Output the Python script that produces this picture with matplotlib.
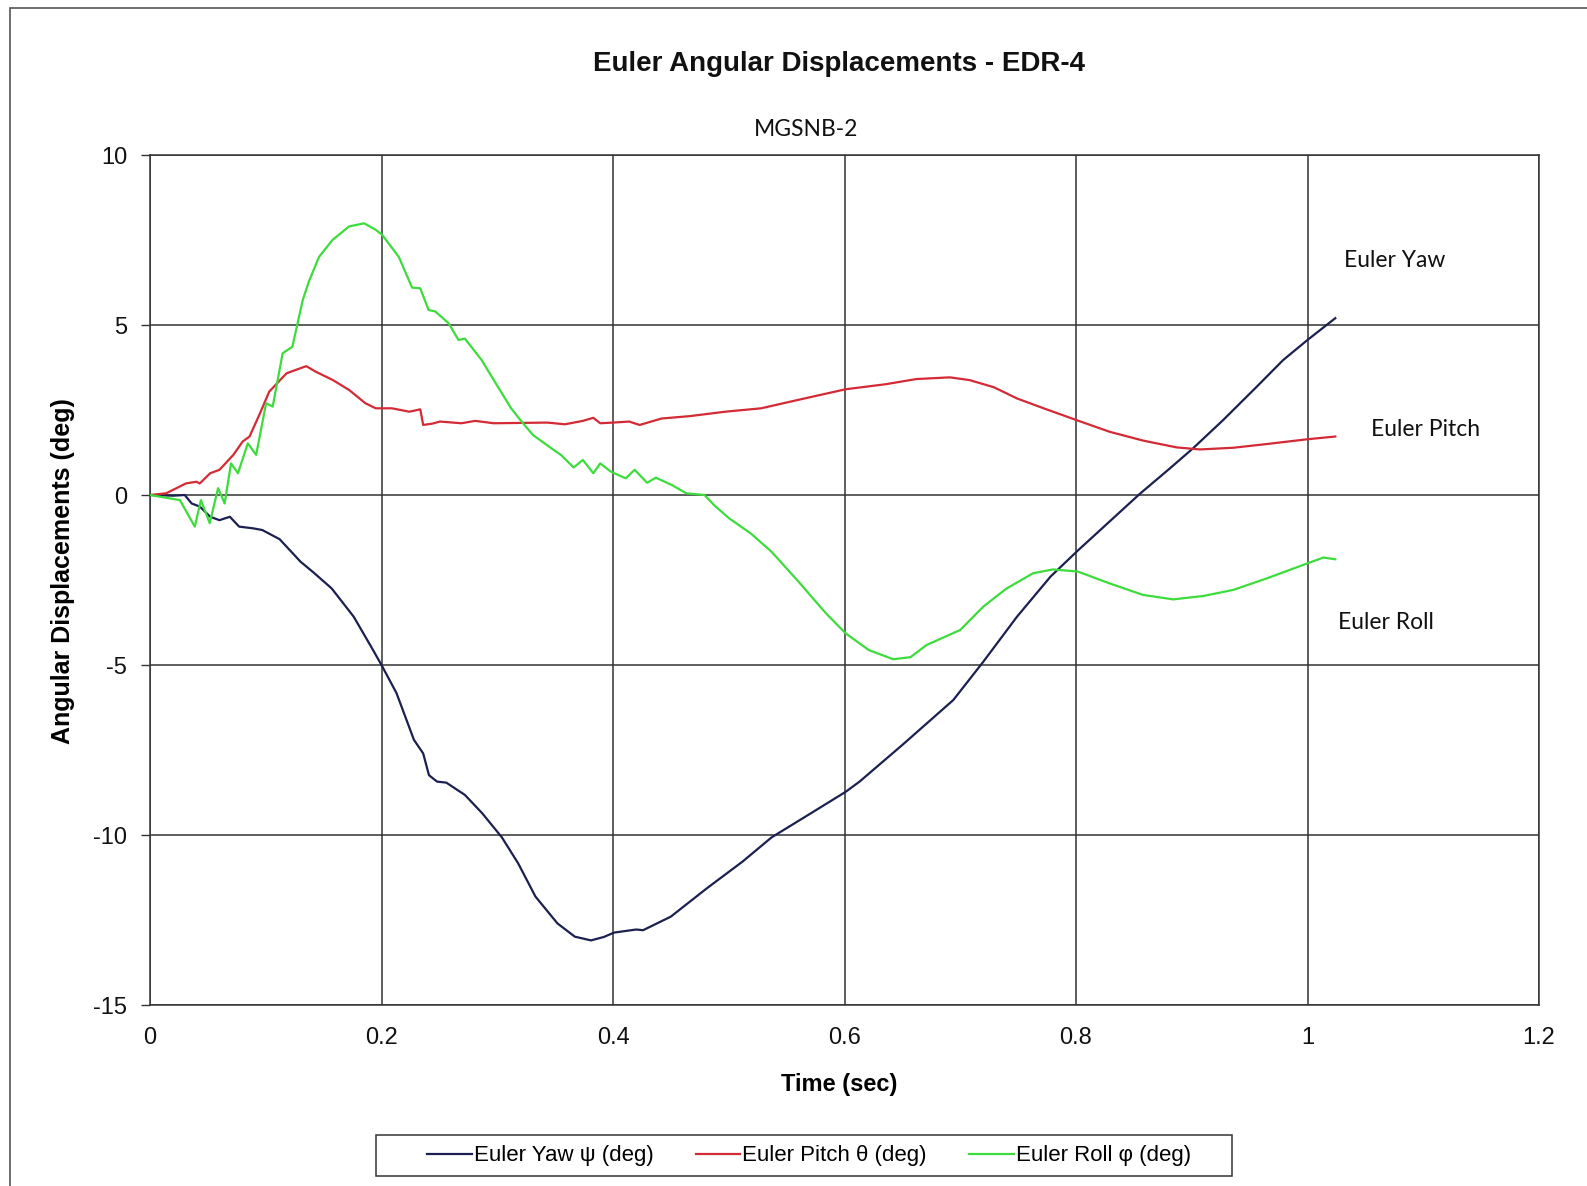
import matplotlib
matplotlib.use("Agg")
import matplotlib.pyplot as plt
from matplotlib.patches import Rectangle

# ---------------- data ----------------
yaw_t = [0, 0.02, 0.03, 0.036, 0.043, 0.052, 0.06, 0.069, 0.077, 0.089, 0.097, 0.112, 0.13, 0.142,
         0.157, 0.176, 0.191, 0.2, 0.213, 0.228, 0.236, 0.241, 0.248, 0.256, 0.272, 0.287, 0.304,
         0.318, 0.333, 0.352, 0.367, 0.381, 0.392, 0.401, 0.42, 0.426, 0.45, 0.481, 0.512, 0.537,
         0.571, 0.601, 0.613, 0.65, 0.694, 0.72, 0.749, 0.778, 0.802, 0.829, 0.855, 0.881, 0.901,
         0.927, 0.956, 0.979, 1.0, 1.024]
yaw_v = [0, -0.02, 0, -0.25, -0.34, -0.64, -0.74, -0.64, -0.93, -0.98, -1.03, -1.3, -1.96, -2.3,
         -2.75, -3.58, -4.46, -5.0, -5.83, -7.2, -7.6, -8.24, -8.43, -8.46, -8.82, -9.36, -10.07,
         -10.83, -11.81, -12.6, -12.99, -13.1, -13.0, -12.87, -12.78, -12.8, -12.4, -11.57, -10.78,
         -10.07, -9.36, -8.73, -8.43, -7.35, -6.03, -4.9, -3.58, -2.4, -1.62, -0.78, 0.03, 0.78,
         1.37, 2.2, 3.18, 3.97, 4.56, 5.2]

pitch_t = [0, 0.014, 0.031, 0.04, 0.043, 0.052, 0.06, 0.072, 0.08, 0.086, 0.095, 0.103, 0.118,
           0.126, 0.135, 0.143, 0.158, 0.172, 0.186, 0.195, 0.209, 0.224, 0.2335, 0.236, 0.244,
           0.2505, 0.269, 0.281, 0.297, 0.343, 0.3585, 0.374, 0.383, 0.389, 0.4, 0.414, 0.423,
           0.442, 0.4665, 0.497, 0.528, 0.559, 0.601, 0.636, 0.662, 0.691, 0.708, 0.729, 0.749,
           0.772, 0.8015, 0.829, 0.858, 0.887, 0.907, 0.936, 0.965, 1.0, 1.024]
pitch_v = [0, 0.05, 0.34, 0.39, 0.34, 0.64, 0.74, 1.18, 1.57, 1.72, 2.4, 3.04, 3.58, 3.68, 3.79,
           3.63, 3.38, 3.09, 2.7, 2.55, 2.55, 2.45, 2.52, 2.06, 2.1, 2.16, 2.11, 2.18, 2.11, 2.13,
           2.08, 2.18, 2.27, 2.11, 2.13, 2.16, 2.06, 2.25, 2.32, 2.45, 2.55, 2.79, 3.11, 3.26,
           3.41, 3.46, 3.38, 3.17, 2.84, 2.55, 2.19, 1.86, 1.6, 1.4, 1.34, 1.39, 1.5, 1.64, 1.72]

roll_t = [0, 0.0258, 0.0387, 0.044, 0.0516, 0.0588, 0.0645, 0.070, 0.076, 0.0845, 0.0917, 0.1003,
          0.106, 0.1146, 0.123, 0.132, 0.1375, 0.146, 0.1576, 0.172, 0.185, 0.195, 0.2006, 0.215,
          0.2264, 0.2335, 0.2407, 0.2464, 0.258, 0.2665, 0.272, 0.2865, 0.297, 0.312, 0.321,
          0.331, 0.349, 0.355, 0.366, 0.374, 0.383, 0.389, 0.398, 0.411, 0.4187, 0.4295, 0.437,
          0.451, 0.4634, 0.479, 0.488, 0.5005, 0.519, 0.537, 0.559, 0.584, 0.601, 0.621, 0.642,
          0.657, 0.671, 0.70, 0.72, 0.74, 0.763, 0.78, 0.8015, 0.829, 0.858, 0.884, 0.91, 0.936,
          0.965, 1.0, 1.0137, 1.024]
roll_v = [0, -0.15, -0.93, -0.15, -0.83, 0.2, -0.25, 0.93, 0.64, 1.52, 1.18, 2.7, 2.6, 4.17, 4.36,
          5.74, 6.3, 7.0, 7.5, 7.9, 7.99, 7.8, 7.65, 7.0, 6.1, 6.08, 5.44, 5.4, 5.05, 4.56, 4.6,
          3.97, 3.38, 2.55, 2.16, 1.76, 1.32, 1.18, 0.81, 1.03, 0.64, 0.93, 0.69, 0.49, 0.74,
          0.36, 0.51, 0.29, 0.05, 0.0, -0.32, -0.69, -1.13, -1.67, -2.5, -3.48, -4.07, -4.56,
          -4.83, -4.77, -4.41, -3.97, -3.28, -2.75, -2.3, -2.19, -2.25, -2.6, -2.94, -3.07,
          -2.97, -2.79, -2.45, -2.01, -1.84, -1.89]

series_labels = ["Euler Yaw \u03c8 (deg)", "Euler Pitch \u03b8 (deg)", "Euler Roll \u03c6 (deg)"]
series_colors = ["#1c2050", "#d42a35", "#3ddc3d"]
annot_texts = ["Euler Yaw", "Euler Pitch", "Euler Roll"]
annot_pos = [(1.075, 6.9), (1.102, 1.94), (1.068, -3.74)]

x_ticks = [0, 0.2, 0.4, 0.6, 0.8, 1.0, 1.2]
x_tick_labels = ["0", "0.2", "0.4", "0.6", "0.8", "1", "1.2"]
y_ticks = [10, 5, 0, -5, -10, -15]
y_tick_labels = ["10", "5", "0", "-5", "-10", "-15"]

# ---------------- figure ----------------
W, H = 1587, 1186
fig = plt.figure(figsize=(W / 100, H / 100), dpi=100)
fig.patch.set_facecolor("white")

# outer chart-area border
fig.patches.append(Rectangle((10 / W, -0.02), 1.2, (H - 8) / H + 0.02, transform=fig.transFigure,
                             fill=False, edgecolor="#555555", linewidth=1.2))

ax = fig.add_axes([150 / W, (H - 1005) / H, 1389 / W, 850 / H])

for t, v, c, lab in zip([yaw_t, pitch_t, roll_t], [yaw_v, pitch_v, roll_v], series_colors, series_labels):
    ax.plot(t, v, color=c, lw=1.6, label=lab, zorder=3)

ax.set_xlim(0, 1.2)
ax.set_ylim(-15, 10)
ax.set_xticks(x_ticks)
ax.set_xticklabels(x_tick_labels)
ax.set_yticks(y_ticks)
ax.set_yticklabels(y_tick_labels)
ax.grid(True, color="#333333", lw=1.1, zorder=1)
for s in ax.spines.values():
    s.set_color("#333333")
    s.set_linewidth(1.1)
ax.tick_params(axis="y", direction="out", length=6.5, width=1.0, color="#333333",
               labelsize=17, labelcolor="#111111", pad=10)
ax.tick_params(axis="x", length=0, labelsize=17, labelcolor="#111111", pad=16)
for lab in ax.get_xticklabels() + ax.get_yticklabels():
    lab.set_family("Liberation Sans")

ax.set_xlabel("Time (sec)", fontsize=17, fontweight="bold", family="Liberation Sans", va="center")
ax.xaxis.set_label_coords((829 * 1587 / 1568 - 150) / 1389, (1005 - 1084) / 850)
ax.set_ylabel("Angular Displacements (deg)", fontsize=18, fontweight="bold",
              family="Liberation Sans", va="center")
ax.yaxis.set_label_coords((63 - 150) / 1389, 0.510)

for txt, (px, py) in zip(annot_texts, annot_pos):
    ax.text(px, py, txt, fontsize=16.5, family="Lato", ha="center", va="center", color="#111111",
            clip_on=False)

fig.text(829 * 1587 / 1568 / W, 1 - 64 / H, "Euler Angular Displacements - EDR-4", fontsize=20,
         fontweight="bold", family="Liberation Sans", ha="center", va="center", color="#111111")
fig.text(806 / W, 1 - 129 / H, "MGSNB-2", fontsize=16.5, family="Lato", ha="center", va="center",
         color="#111111")

# legend box (drawn as a plain rectangle) and legend entries
fig.patches.append(Rectangle((376 / W, 1 - 1176 / H), (1232 - 376) / W, 41 / H,
                             transform=fig.transFigure, fill=False, edgecolor="#333333",
                             linewidth=1.1))
leg = fig.legend(loc="center", bbox_to_anchor=(809 / W, 1 - 1156 / H), ncol=3, frameon=False,
                 handlelength=2.0, handletextpad=0.1, columnspacing=1.9, borderpad=0.2,
                 prop={"family": ["Liberation Sans", "DejaVu Sans"], "size": 16})

fig.savefig("out.png", dpi=100, facecolor="white")
